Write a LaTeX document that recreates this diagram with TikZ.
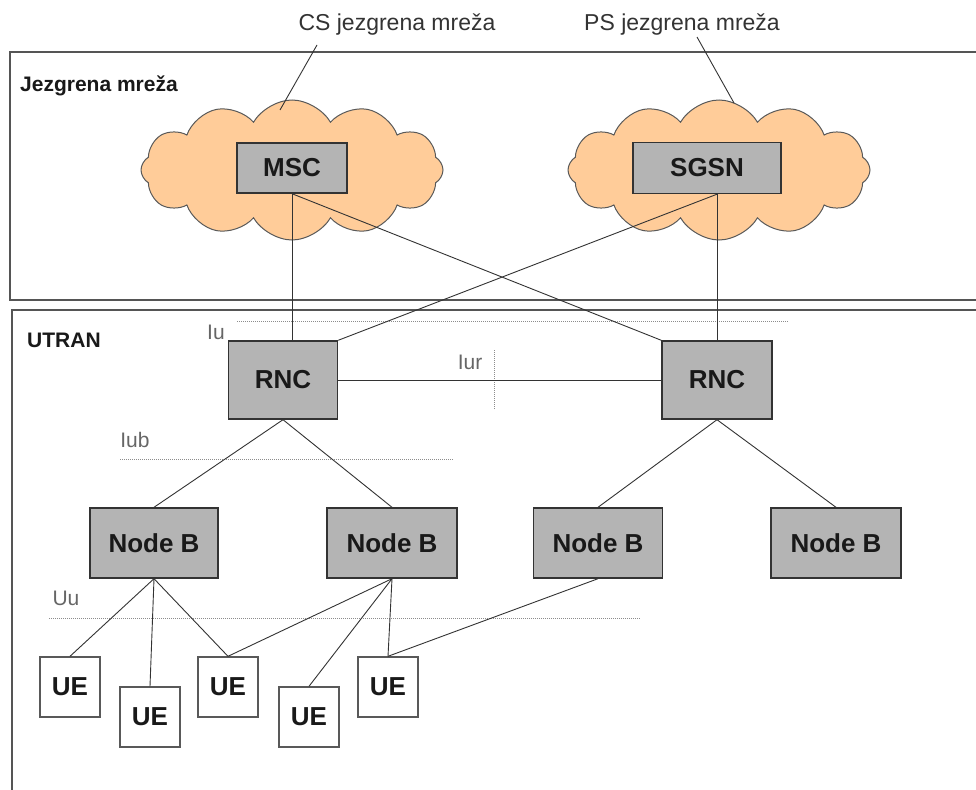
\documentclass[tikz,border=0pt]{standalone}
\usepackage{fontspec}
\setmainfont{Liberation Sans}
\usetikzlibrary{shapes.symbols}
\definecolor{boxgray}{HTML}{B4B4B4}
\definecolor{cloudfill}{HTML}{FFCC99}
\definecolor{framegray}{HTML}{555555}
\tikzset{
  netbox/.style={draw=black!80, line width=1.4pt, fill=boxgray, inner sep=0pt,
    font=\bfseries\fontsize{26}{28}\selectfont, text=black!90},
  uebox/.style={netbox, fill=white, draw=black!65, minimum width=60pt, minimum height=60pt},
  netcloud/.style={cloud, cloud puffs=12, cloud puff arc=120, cloud ignores aspect,
    draw=black!65, line width=1pt, fill=cloudfill, minimum width=302pt, minimum height=140pt},
  link/.style={draw=black!80, line width=0.9pt},
  frame/.style={draw=framegray, line width=1.8pt},
  ifline/.style={draw=black!45, line width=1pt, dash pattern=on 1pt off 1pt},
  iflabel/.style={text=black!60, font=\fontsize{21}{23}\selectfont, inner sep=0pt},
  toplabel/.style={text=black!80, font=\fontsize{23}{25}\selectfont, inner sep=0pt},
  framelabel/.style={text=black!90, font=\bfseries\fontsize{21}{23}\selectfont, inner sep=0pt, anchor=west}
}
\begin{document}
\begin{tikzpicture}[x=1pt,y=-1pt]
\useasboundingbox[fill=white] (0,0) rectangle (976,789);
% frames
\draw[frame] (990,52) -- (10,52) -- (10,300) -- (990,300);
\draw[frame] (990,310) -- (12,310) -- (12,800);
\node[framelabel] (jm) at (20,86) {Jezgrena mreža};
\node[framelabel] (utran) at (27,340) {UTRAN};
% clouds
\node[netcloud] (cloudCS) at (292,170) {};
\node[netcloud] (cloudPS) at (719,170) {};
% top labels
\node[toplabel] (cslabel) at (397,25) {CS jezgrena mreža};
\node[toplabel] (pslabel) at (682,25) {PS jezgrena mreža};
\coordinate (csA) at (317,45);
\coordinate (csB) at (280,110);
\coordinate (psA) at (697,37);
\coordinate (psB) at (734,103);
\draw[link] (csA) -- (csB);
\draw[link] (psA) -- (psB);
% core nodes
\node[netbox, minimum width=110pt, minimum height=50pt] (MSC) at (292,168) {MSC};
\node[netbox, minimum width=148pt, minimum height=51pt] (SGSN) at (707,168) {SGSN};
% RNCs
\node[netbox, minimum width=109pt, minimum height=78pt] (RNC1) at (283,380) {RNC};
\node[netbox, minimum width=110pt, minimum height=78pt] (RNC2) at (717,380) {RNC};
% Node Bs
\node[netbox, minimum width=128pt, minimum height=70pt] (NB1) at (154,543) {Node B};
\node[netbox, minimum width=130pt, minimum height=70pt] (NB2) at (392,543) {Node B};
\node[netbox, minimum width=129pt, minimum height=70pt] (NB3) at (598,543) {Node B};
\node[netbox, minimum width=130pt, minimum height=70pt] (NB4) at (836,543) {Node B};
% UEs
\node[uebox] (UE1) at (70,687) {UE};
\node[uebox] (UE2) at (150,717) {UE};
\node[uebox] (UE3) at (228,687) {UE};
\node[uebox] (UE4) at (309,717) {UE};
\node[uebox] (UE5) at (388,687) {UE};
% interfaces
\draw[ifline] (237,321) -- (789,321);
\draw[ifline] (494,350) -- (494,410);
\draw[ifline] (120,459) -- (453,459);
\draw[ifline] (49,618) -- (640,618);
\node[iflabel] (iu) at (216,332) {Iu};
\node[iflabel] (iur) at (470,362) {Iur};
\node[iflabel] (iub) at (135,440) {Iub};
\node[iflabel] (uu) at (66,598) {Uu};
% links
\draw[link] (MSC.south) -- (MSC.south |- RNC1.north);
\draw[link] (MSC.south) -- (RNC2.north west);
\draw[link] (SGSN.south -| RNC2.north) -- (RNC2.north);
\draw[link] (SGSN.south -| RNC2.north) -- (RNC1.north east);
\draw[link] (RNC1.east) -- (RNC2.west);
\draw[link] (RNC1.south) -- (NB1.north);
\draw[link] (RNC1.south) -- (NB2.north);
\draw[link] (RNC2.south) -- (NB3.north);
\draw[link] (RNC2.south) -- (NB4.north);
\draw[link] (NB1.south) -- (UE1.north);
\draw[link] (NB1.south) -- (UE2.north);
\draw[link] (NB1.south) -- (UE3.north);
\draw[link] (NB2.south) -- (UE3.north);
\draw[link] (NB2.south) -- (UE4.north);
\draw[link] (NB2.south) -- (UE5.north);
\draw[link] (NB3.south) -- (UE5.north);
\end{tikzpicture}
\end{document}
